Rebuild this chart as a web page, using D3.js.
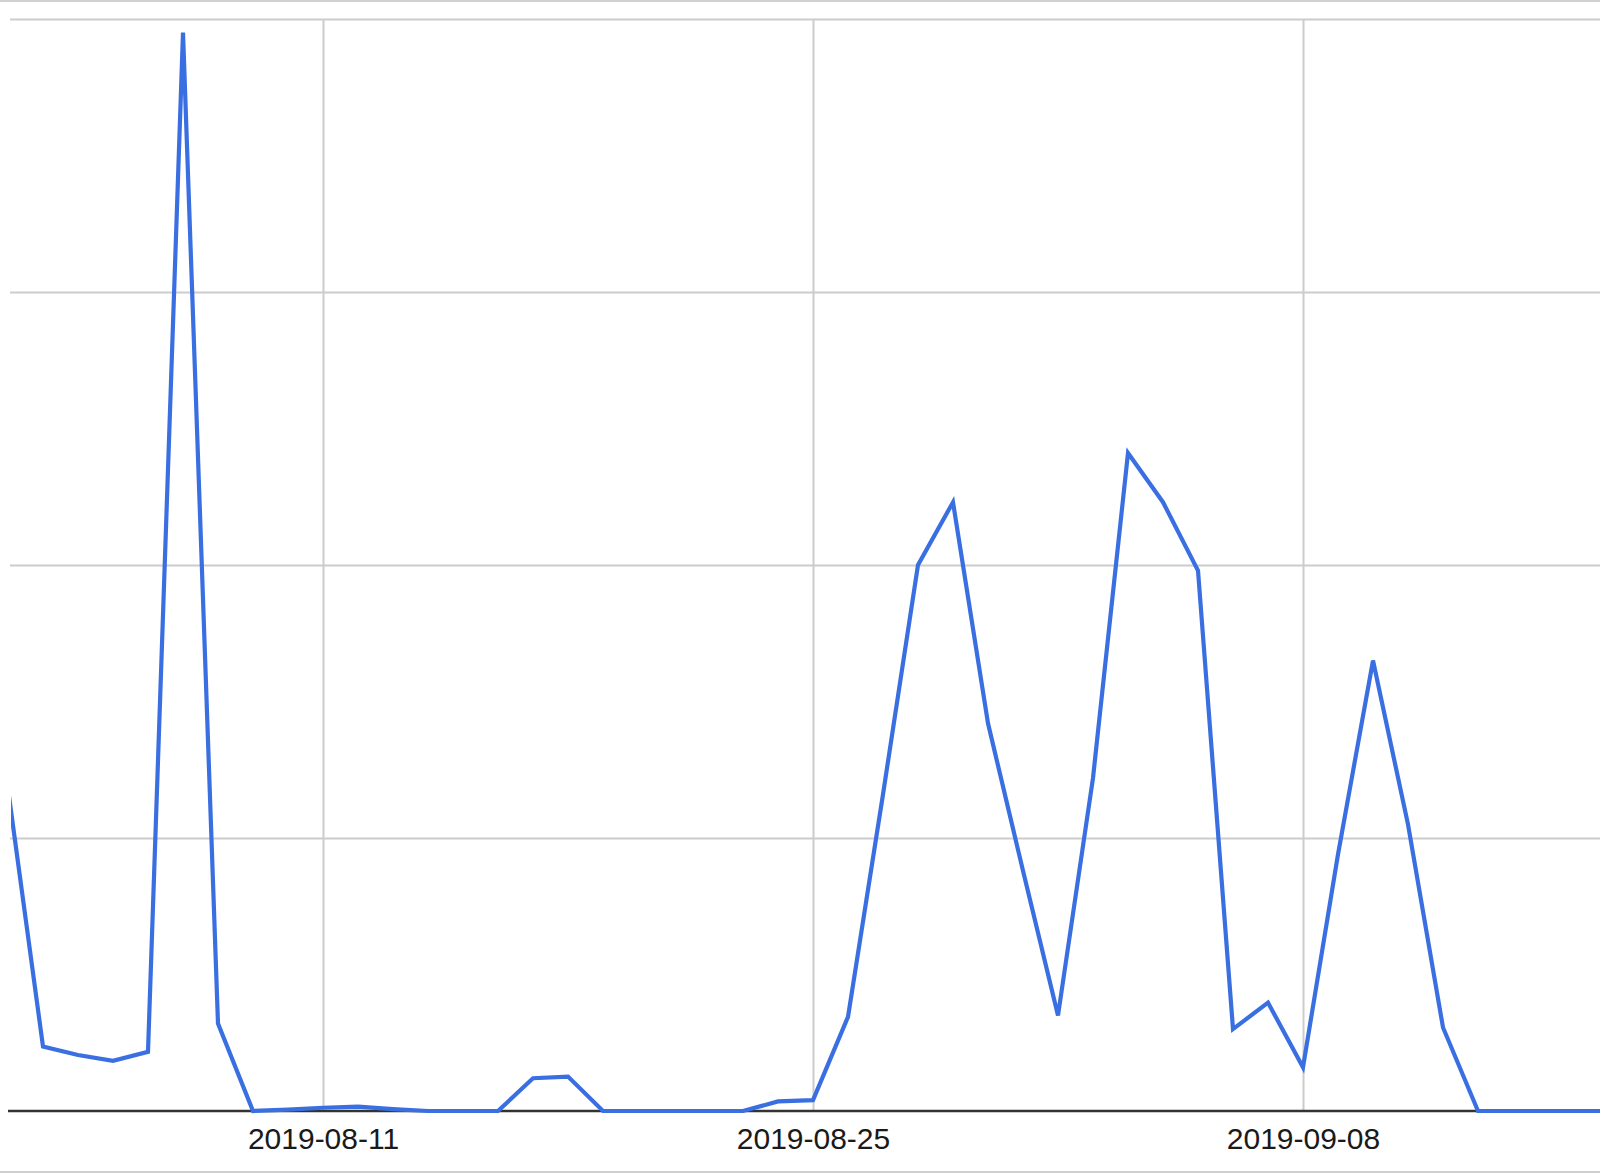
<!DOCTYPE html>
<html>
<head>
<meta charset="utf-8">
<script src="https://cdn.jsdelivr.net/npm/d3@7"></script>
<style>
  html, body { margin: 0; padding: 0; background: #fff; }
  svg { display: block; }
</style>
</head>
<body>
<svg id="chart" width="1600" height="1173"></svg>
<script>
// ---- data ----
const dates = [
  "2019-08-02","2019-08-03","2019-08-04","2019-08-05","2019-08-06","2019-08-07","2019-08-08",
  "2019-08-09","2019-08-10","2019-08-11","2019-08-12","2019-08-13","2019-08-14","2019-08-15",
  "2019-08-16","2019-08-17","2019-08-18","2019-08-19","2019-08-20","2019-08-21","2019-08-22",
  "2019-08-23","2019-08-24","2019-08-25","2019-08-26","2019-08-27","2019-08-28","2019-08-29",
  "2019-08-30","2019-08-31","2019-09-01","2019-09-02","2019-09-03","2019-09-04","2019-09-05",
  "2019-09-06","2019-09-07","2019-09-08","2019-09-09","2019-09-10","2019-09-11","2019-09-12",
  "2019-09-13","2019-09-14","2019-09-15","2019-09-16","2019-09-17"
];
const values = [
  118, 23.6, 20.5, 18.4, 21.7, 395, 32,
  0, 0.5, 1.2, 1.6, 0.7, 0, 0,
  0, 12, 12.6, 0, 0, 0, 0,
  0, 3.5, 4, 34.5, 116, 200, 223,
  142, 88, 35, 122, 241, 223, 198,
  30, 39.7, 16, 94, 165, 105, 30.6,
  0, 0, 0, 0, 0
];
const xTickLabels = ["2019-08-11", "2019-08-25", "2019-09-08"];
const yTicks = [0, 100, 200, 300, 400];

// ---- layout ----
const W = 1600, H = 1173;
const plot = { left: 10, right: 1600, top: 19, bottom: 1111 };

const parse = d3.utcParse("%Y-%m-%d");
const data = dates.map((d, i) => ({ date: parse(d), value: values[i] }));

const x = d3.scaleUtc()
  .domain([parse("2019-08-11"), parse("2019-09-08")])
  .range([323, 1303]);
const y = d3.scaleLinear().domain([0, 400]).range([plot.bottom, plot.top]);

const svg = d3.select("#chart");

svg.append("rect").attr("width", W).attr("height", H).attr("fill", "#fff");

// frame lines (top / bottom)
svg.append("line").attr("x1", 0).attr("x2", W).attr("y1", 1).attr("y2", 1)
  .attr("stroke", "#d0d0d0").attr("stroke-width", 2);
svg.append("line").attr("x1", 0).attr("x2", W).attr("y1", H - 1).attr("y2", H - 1)
  .attr("stroke", "#d0d0d0").attr("stroke-width", 2);

svg.append("defs").append("clipPath").attr("id", "clip")
  .append("rect")
  .attr("x", plot.left + 1).attr("y", 0)
  .attr("width", plot.right - plot.left).attr("height", H);

// horizontal gridlines
const yAxis = d3.axisLeft(y).tickValues(yTicks.filter(v => v > 0))
  .tickSize(-(plot.right - plot.left)).tickFormat("");
const gy = svg.append("g").attr("transform", `translate(${plot.left},0)`).call(yAxis);
gy.select(".domain").remove();
gy.selectAll(".tick line").attr("stroke", "#cccccc").attr("stroke-width", 2);

// vertical gridlines + labels
const xTickDates = xTickLabels.map(parse);
const xAxis = d3.axisBottom(x).tickValues(xTickDates)
  .tickSize(-(plot.bottom - plot.top)).tickPadding(0)
  .tickFormat(d3.utcFormat("%Y-%m-%d"));
const gx = svg.append("g").attr("transform", `translate(0,${plot.bottom})`).call(xAxis);
gx.select(".domain").remove();
gx.selectAll(".tick line").attr("stroke", "#cccccc").attr("stroke-width", 2);
gx.selectAll(".tick text")
  .attr("y", 38)
  .attr("dy", 0)
  .attr("fill", "#1a1a1a")
  .style("font-family", "'Liberation Sans', Arial, sans-serif")
  .style("font-size", "30px");

// baseline
svg.append("line")
  .attr("x1", plot.left - 2).attr("x2", plot.right)
  .attr("y1", y(0)).attr("y2", y(0))
  .attr("stroke", "#333").attr("stroke-width", 2.5);

// series line
const line = d3.line().x(d => x(d.date)).y(d => y(d.value));
svg.append("path")
  .datum(data)
  .attr("clip-path", "url(#clip)")
  .attr("fill", "none")
  .attr("stroke", "#3a6fe2")
  .attr("stroke-width", 4.2)
  .attr("stroke-linejoin", "miter")
  .attr("d", line);
</script>
</body>
</html>
